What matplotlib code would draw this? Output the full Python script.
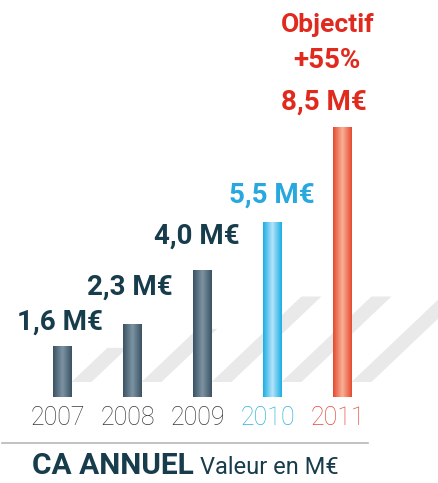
import numpy as np
import matplotlib.pyplot as plt
from matplotlib.patches import Polygon
from matplotlib.lines import Line2D

# data
years = ['2007', '2008', '2009', '2010', '2011']
ca = [1.6, 2.3, 4.0, 5.5, 8.5]
labels = ['1,6 M€', '2,3 M€', '4,0 M€', '5,5 M€', '8,5 M€']

# styles
bar_dark = ['#3b5264', '#3b5264', '#3b5264', '#1aaee6', '#e64a30']
bar_light = ['#7d93a3', '#7d93a3', '#7d93a3', '#b5e3f8', '#f7b196']
label_col = ['#173c4c', '#173c4c', '#173c4c', '#27a8df', '#e02a1e']
year_col = ['#3a3a3a', '#3a3a3a', '#3a3a3a', '#2fb2da', '#e04a38']
label_off = [(-2, 24), (-2, 37), (-5, 34), (0, 27), (-18, 25)]
font = ['Roboto', 'DejaVu Sans']

W, H = 438, 483
fig = plt.figure(figsize=(W / 100, H / 100), dpi=100)
base_px = 97           # baseline, pixels from the bottom
ax = fig.add_axes([0, base_px / H, 1, (H - base_px) / H])
ax.set_xlim(-62 / 70, (W - 62) / 70)
ax.set_ylim(0.34, 0.34 + (H - base_px) / 31.7)
ax.axis('off')

x = np.arange(len(years))
bw = 0.27

# shadows behind the bars (drawn in pixel space from each bar's base)
to_px = ax.transData
for i, v in enumerate(ca):
    x0, y0 = to_px.transform((x[i] + bw / 2, 0.34))
    _, y1 = to_px.transform((x[i], v))
    L = min((y1 - y0) * 0.9, 90)
    pts = np.array([(x0, y0 + 4), (x0 + 20, y0 + 4), (x0 + 20 + L, y0 + 4 + L * 0.95),
                    (x0 + L, y0 + 4 + L * 0.95)])
    pts = ax.transData.inverted().transform(pts)
    ax.add_patch(Polygon(pts, closed=True, facecolor='#e2e2e2',
                         edgecolor='none', alpha=0.75, zorder=1))

# bars with a cylinder gradient
bars = ax.bar(x, ca, width=bw, color=bar_dark, zorder=2)
prof = np.abs(np.linspace(-1, 1, 64)) ** 1.0
for i, b in enumerate(bars):
    c0 = np.array(plt.matplotlib.colors.to_rgb(bar_light[i]))
    c1 = np.array(plt.matplotlib.colors.to_rgb(bar_dark[i]))
    grad = c0[None, :] * (1 - prof[:, None]) + c1[None, :] * prof[:, None]
    im = ax.imshow(grad[None, :, :], extent=[b.get_x(), b.get_x() + bw, 0, ca[i]],
                   aspect='auto', zorder=3)
    im.set_clip_path(b)

# value labels
for i, v in enumerate(ca):
    ax.annotate(labels[i], (x[i], v), xytext=label_off[i], textcoords='offset pixels',
                ha='center', va='center', fontsize=20, fontweight='bold',
                family=font, color=label_col[i])

ax.annotate('Objectif', (x[4], ca[4]), xytext=(-14, 102), textcoords='offset pixels',
            ha='center', va='center', fontsize=19, fontweight='bold',
            family=font, color=label_col[4])
ax.annotate('+55%', (x[4], ca[4]), xytext=(-15, 67), textcoords='offset pixels',
            ha='center', va='center', fontsize=20, fontweight='bold',
            family=font, color=label_col[4])

# year labels
for i, yr in enumerate(years):
    ax.annotate(yr, (x[i], 0.34), xytext=(-4, -32), textcoords='offset pixels',
                ha='center', va='center', fontsize=18, family=font, fontweight='light',
                color=year_col[i], annotation_clip=False)

# separator and title
fig.add_artist(Line2D([2 / W, 368 / W], [1 - 443 / H, 1 - 443 / H],
                      color='#b8b8b8', lw=1.2))
fig.text(32 / W, 1 - 466 / H, 'CA ANNUEL', ha='left', va='center', fontsize=21.5,
         fontweight='bold', family=font, color='#173c4c')
fig.text(200 / W, 1 - 468 / H, 'Valeur en M€', ha='left', va='center', fontsize=17,
         family=font, color='#173c4c')

fig.savefig('out.png', dpi=100)
